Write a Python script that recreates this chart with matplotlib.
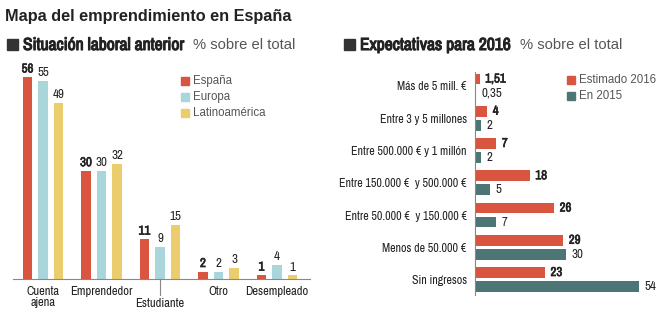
import numpy as np
import matplotlib
matplotlib.use("Agg")
import matplotlib.pyplot as plt
import matplotlib.patheffects as pe
from matplotlib.patches import Rectangle

# situación laboral anterior (% sobre el total)
situaciones = ["Cuenta\najena", "Emprendedor", "Estudiante", "Otro", "Desempleado"]
espana = [56, 30, 11, 2, 1]
europa = [55, 30, 9, 2, 4]
latam = [49, 32, 15, 3, 1]

# expectativas de facturación para 2016 (% sobre el total)
tramos = ["Más de 5 mill. €", "Entre 3 y 5 millones", "Entre 500.000 € y 1 millón",
          "Entre 150.000 €  y 500.000 €", "Entre 50.000 €  y 150.000 €",
          "Menos de 50.000 €", "Sin ingresos"]
estimado_2016 = [1.51, 4, 7, 18, 26, 29, 23]
en_2015 = [0.35, 2, 2, 5, 7, 30, 54]
etiq_2016 = ["1,51", "4", "7", "18", "26", "29", "23"]
etiq_2015 = ["0,35", "2", "2", "5", "7", "30", "54"]

RED = "#d9553f"
BLUE = "#a9d6db"
YELLOW = "#ebcd6e"
TEAL = "#4e7576"
DARK = "#222222"
GREY = "#555555"
NARROW = ["Archivo Narrow", "Liberation Sans", "DejaVu Sans"]
SANS = ["Liberation Sans", "DejaVu Sans"]
# the narrow face ships only one weight, so thicken strokes for the bold bits
BOLD = [pe.withStroke(linewidth=0.8, foreground=DARK)]
BOLD_SMALL = [pe.withStroke(linewidth=0.45, foreground=DARK)]

W, H = 664, 326
fig = plt.figure(figsize=(W / 100, H / 100), dpi=100)


def px_axes(x0, y0, x1, y1):
    # axes placed in pixel coords measured from the top-left corner
    return fig.add_axes([x0 / W, 1 - y1 / H, (x1 - x0) / W, (y1 - y0) / H])


def px(x, y):
    return x / W, 1 - y / H


def square(x0, yb, size, col):
    fig.patches.append(Rectangle(px(x0, yb), size / W, size / H,
                                 transform=fig.transFigure, color=col, figure=fig))


# titles
fig.text(*px(5, 16), "Mapa del emprendimiento en España", family=SANS,
         weight="bold", fontsize=11.7, color=DARK, va="center")
square(7, 50, 11, "#333333")
fig.text(*px(23, 45), "Situación laboral anterior", family=NARROW,
         fontsize=12.6, color=DARK, va="center", path_effects=BOLD)
fig.text(*px(193, 45), "% sobre el total", family=SANS, fontsize=10.6,
         color=GREY, va="center")
square(344, 50, 11, "#333333")
fig.text(*px(360, 45), "Expectativas para 2016", family=NARROW,
         fontsize=12.6, color=DARK, va="center", path_effects=BOLD)
fig.text(*px(520, 45), "% sobre el total", family=SANS, fontsize=10.6,
         color=GREY, va="center")

# --- left: grouped vertical bars ---
ax = px_axes(13, 60, 310, 279)
x = np.arange(len(situaciones))
bw, off = 0.165, 0.265
for vals, col, dx, eff in [(espana, RED, -off, BOLD_SMALL), (europa, BLUE, 0, None),
                           (latam, YELLOW, off, None)]:
    bars = ax.bar(x + dx, vals, width=bw, color=col)
    for b, v in zip(bars, vals):
        ax.annotate(str(v), (b.get_x() + b.get_width() / 2, v), xytext=(0, 2),
                    textcoords="offset points", ha="center", va="bottom",
                    family=NARROW, fontsize=9.3, color=DARK, path_effects=eff)
ax.set_xlim(-0.513, 4.564)
ax.set_ylim(0, 60.8)
for s in ["top", "right", "left"]:
    ax.spines[s].set_visible(False)
ax.spines["bottom"].set_color("#888888")
ax.set_yticks([])
ax.set_xticks([])
for i, lab in enumerate(situaciones):
    yy = -14 if i == 2 else -5
    ax.annotate(lab, (i, 0), xytext=(0, yy), textcoords="offset points",
                ha="center", va="top", family=NARROW, fontsize=9, color=DARK,
                linespacing=1.05)
ax.plot([2, 2], [0, -4.4], color="#888888", lw=0.8, clip_on=False)

for k, (lab, col) in enumerate([("España", RED), ("Europa", BLUE),
                                ("Latinoamérica", YELLOW)]):
    yc = 81 + 16 * k
    square(181, yc + 4, 8, col)
    fig.text(*px(193, yc), lab, family=SANS, fontsize=8.3, color=GREY, va="center")

# --- right: paired horizontal bars ---
ax2 = px_axes(475, 72, 655, 295)
y = np.arange(len(tramos))
bh, yoff = 0.34, 0.217
b16 = ax2.barh(y - yoff, estimado_2016, height=bh, color=RED)
b15 = ax2.barh(y + yoff, en_2015, height=bh, color=TEAL)
for bars, labs, eff in [(b16, etiq_2016, BOLD_SMALL), (b15, etiq_2015, None)]:
    for b, lab in zip(bars, labs):
        ax2.annotate(lab, (b.get_width(), b.get_y() + b.get_height() / 2),
                     xytext=(4, 0), textcoords="offset points", ha="left",
                     va="center", family=NARROW, fontsize=9.3, color=DARK,
                     path_effects=eff)
ax2.set_xlim(0, 59.2)
ax2.set_ylim(6.48, -0.434)
for s in ["top", "right", "bottom"]:
    ax2.spines[s].set_visible(False)
ax2.spines["left"].set_color("#888888")
ax2.set_xticks([])
ax2.set_yticks(y)
ax2.set_yticklabels(tramos, family=NARROW, fontsize=8.6, color=DARK)
ax2.tick_params(axis="y", length=0, pad=6)

for k, (lab, col) in enumerate([("Estimado 2016", RED), ("En 2015", TEAL)]):
    yc = 80 + 16 * k
    square(567, yc + 4, 8, col)
    fig.text(*px(579, yc), lab, family=SANS, fontsize=8.3, color=GREY, va="center")

fig.savefig("out.png", dpi=100)
